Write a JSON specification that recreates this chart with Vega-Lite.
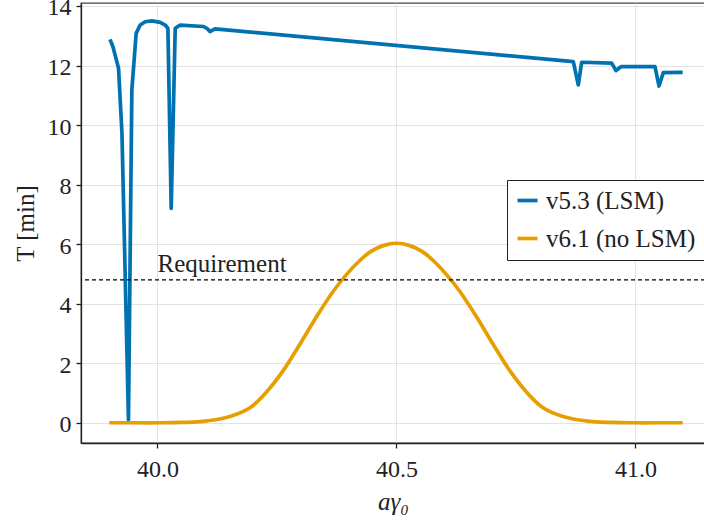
{
  "$schema": "https://vega.github.io/schema/vega-lite/v6.json",
  "autosize": {"type": "none"},
  "padding": {"left": 81, "top": 3, "right": 0, "bottom": 82},
  "width": 624,
  "height": 440,
  "config": {
    "font": "Liberation Serif",
    "view": {"stroke": "#444", "strokeWidth": 1.3},
    "axis": {
      "labelFont": "Liberation Serif", "titleFont": "Liberation Serif",
      "labelFontSize": 24, "titleFontSize": 25, "labelColor": "#222", "titleColor": "#222",
      "titleFontWeight": "normal", "gridColor": "#e3e3e3", "gridWidth": 1,
      "domainColor": "#222", "domainWidth": 1.3, "tickColor": "#222", "tickSize": 5, "tickWidth": 1.3
    },
    "legend": {"labelFont": "Liberation Serif"}
  },
  "datasets": {
    "curves": [
      {"a": 39.9006, "T": 12.88, "series": "v5.3 (LSM)"},
      {"a": 39.9069, "T": 12.63, "series": "v5.3 (LSM)"},
      {"a": 39.9185, "T": 11.91, "series": "v5.3 (LSM)"},
      {"a": 39.9257, "T": 9.72, "series": "v5.3 (LSM)"},
      {"a": 39.9393, "T": 0.09, "series": "v5.3 (LSM)"},
      {"a": 39.9464, "T": 11.18, "series": "v5.3 (LSM)"},
      {"a": 39.9554, "T": 13.08, "series": "v5.3 (LSM)"},
      {"a": 39.9638, "T": 13.36, "series": "v5.3 (LSM)"},
      {"a": 39.9743, "T": 13.47, "series": "v5.3 (LSM)"},
      {"a": 39.9883, "T": 13.5, "series": "v5.3 (LSM)"},
      {"a": 40.0056, "T": 13.45, "series": "v5.3 (LSM)"},
      {"a": 40.0162, "T": 13.36, "series": "v5.3 (LSM)"},
      {"a": 40.0218, "T": 13.25, "series": "v5.3 (LSM)"},
      {"a": 40.0287, "T": 7.2, "series": "v5.3 (LSM)"},
      {"a": 40.0371, "T": 13.25, "series": "v5.3 (LSM)"},
      {"a": 40.0476, "T": 13.36, "series": "v5.3 (LSM)"},
      {"a": 40.0963, "T": 13.31, "series": "v5.3 (LSM)"},
      {"a": 40.1034, "T": 13.25, "series": "v5.3 (LSM)"},
      {"a": 40.1098, "T": 13.14, "series": "v5.3 (LSM)"},
      {"a": 40.1203, "T": 13.23, "series": "v5.3 (LSM)"},
      {"a": 40.8699, "T": 12.13, "series": "v5.3 (LSM)"},
      {"a": 40.8803, "T": 11.35, "series": "v5.3 (LSM)"},
      {"a": 40.8874, "T": 12.11, "series": "v5.3 (LSM)"},
      {"a": 40.9502, "T": 12.08, "series": "v5.3 (LSM)"},
      {"a": 40.9592, "T": 11.83, "series": "v5.3 (LSM)"},
      {"a": 40.9697, "T": 11.96, "series": "v5.3 (LSM)"},
      {"a": 41.0408, "T": 11.96, "series": "v5.3 (LSM)"},
      {"a": 41.0492, "T": 11.31, "series": "v5.3 (LSM)"},
      {"a": 41.0582, "T": 11.76, "series": "v5.3 (LSM)"},
      {"a": 41.0987, "T": 11.77, "series": "v5.3 (LSM)"},
      {"a": 39.899, "T": 0.0, "series": "v6.1 (no LSM)"},
      {"a": 39.95, "T": 0.0, "series": "v6.1 (no LSM)"},
      {"a": 40.0, "T": 0.0, "series": "v6.1 (no LSM)"},
      {"a": 40.05, "T": 0.01, "series": "v6.1 (no LSM)"},
      {"a": 40.089, "T": 0.04, "series": "v6.1 (no LSM)"},
      {"a": 40.125, "T": 0.11, "series": "v6.1 (no LSM)"},
      {"a": 40.158, "T": 0.24, "series": "v6.1 (no LSM)"},
      {"a": 40.195, "T": 0.52, "series": "v6.1 (no LSM)"},
      {"a": 40.229, "T": 1.05, "series": "v6.1 (no LSM)"},
      {"a": 40.263, "T": 1.75, "series": "v6.1 (no LSM)"},
      {"a": 40.298, "T": 2.64, "series": "v6.1 (no LSM)"},
      {"a": 40.333, "T": 3.57, "series": "v6.1 (no LSM)"},
      {"a": 40.367, "T": 4.4, "series": "v6.1 (no LSM)"},
      {"a": 40.394, "T": 4.95, "series": "v6.1 (no LSM)"},
      {"a": 40.42, "T": 5.4, "series": "v6.1 (no LSM)"},
      {"a": 40.445, "T": 5.74, "series": "v6.1 (no LSM)"},
      {"a": 40.472, "T": 5.95, "series": "v6.1 (no LSM)"},
      {"a": 40.5, "T": 6.03, "series": "v6.1 (no LSM)"},
      {"a": 40.528, "T": 5.95, "series": "v6.1 (no LSM)"},
      {"a": 40.555, "T": 5.74, "series": "v6.1 (no LSM)"},
      {"a": 40.58, "T": 5.4, "series": "v6.1 (no LSM)"},
      {"a": 40.606, "T": 4.95, "series": "v6.1 (no LSM)"},
      {"a": 40.633, "T": 4.4, "series": "v6.1 (no LSM)"},
      {"a": 40.667, "T": 3.57, "series": "v6.1 (no LSM)"},
      {"a": 40.702, "T": 2.64, "series": "v6.1 (no LSM)"},
      {"a": 40.737, "T": 1.75, "series": "v6.1 (no LSM)"},
      {"a": 40.771, "T": 1.05, "series": "v6.1 (no LSM)"},
      {"a": 40.805, "T": 0.52, "series": "v6.1 (no LSM)"},
      {"a": 40.842, "T": 0.24, "series": "v6.1 (no LSM)"},
      {"a": 40.875, "T": 0.11, "series": "v6.1 (no LSM)"},
      {"a": 40.911, "T": 0.04, "series": "v6.1 (no LSM)"},
      {"a": 40.95, "T": 0.01, "series": "v6.1 (no LSM)"},
      {"a": 41.0, "T": 0.0, "series": "v6.1 (no LSM)"},
      {"a": 41.05, "T": 0.0, "series": "v6.1 (no LSM)"},
      {"a": 41.0987, "T": 0.0, "series": "v6.1 (no LSM)"}
    ],
    "requirement": [{"a": 40.0, "T": 4.8, "textT": 5.07, "label": "Requirement"}]
  },
  "encoding": {
    "x": {"field": "a", "type": "quantitative",
      "scale": {"domain": [39.84, 41.1454], "nice": false, "zero": false},
      "axis": {"values": [40.0, 40.5, 41.0], "format": ".1f", "title": "aγ₀", "titleFontStyle": "italic", "labelPadding": 9, "titlePadding": 8}},
    "y": {"field": "T", "type": "quantitative",
      "scale": {"domain": [-0.68, 14.1], "nice": false, "zero": false},
      "axis": {"values": [0, 2, 4, 6, 8, 10, 12, 14], "format": "d", "title": "T [min]", "labelPadding": 5, "labelOffset": 2, "titlePadding": 9}}
  },
  "layer": [
    {
      "data": {"name": "curves"},
      "transform": [{"filter": "datum.series === 'v5.3 (LSM)'"}],
      "mark": {"type": "line", "strokeWidth": 3.7, "strokeJoin": "round"},
      "encoding": {
        "color": {"field": "series", "type": "nominal",
          "scale": {"domain": ["v5.3 (LSM)", "v6.1 (no LSM)"], "range": ["#0072B2", "#E69F00"]},
          "legend": {"title": null, "orient": "none", "legendX": 426, "legendY": 177,
            "symbolType": "stroke", "symbolSize": 400, "symbolStrokeWidth": 3.7,
            "labelFontSize": 25, "labelColor": "#222", "labelOffset": 6,
            "padding": 8, "rowPadding": 12, "strokeColor": "#222", "fillColor": "white", "cornerRadius": 0}}
      }
    },
    {
      "data": {"name": "curves"},
      "transform": [{"filter": "datum.series === 'v6.1 (no LSM)'"}],
      "mark": {"type": "line", "strokeWidth": 3.7, "interpolate": "catmull-rom"},
      "encoding": {
        "color": {"field": "series", "type": "nominal"}
      }
    },
    {
      "data": {"name": "requirement"},
      "mark": {"type": "rule", "color": "black", "strokeWidth": 1.3, "strokeDash": [4, 3]},
      "encoding": {"x": null, "y": {"field": "T", "type": "quantitative"}}
    },
    {
      "data": {"name": "requirement"},
      "mark": {"type": "text", "align": "left", "baseline": "alphabetic", "fontSize": 25, "color": "#222", "font": "Liberation Serif"},
      "encoding": {"y": {"field": "textT", "type": "quantitative"}, "text": {"field": "label"}}
    }
  ]
}
